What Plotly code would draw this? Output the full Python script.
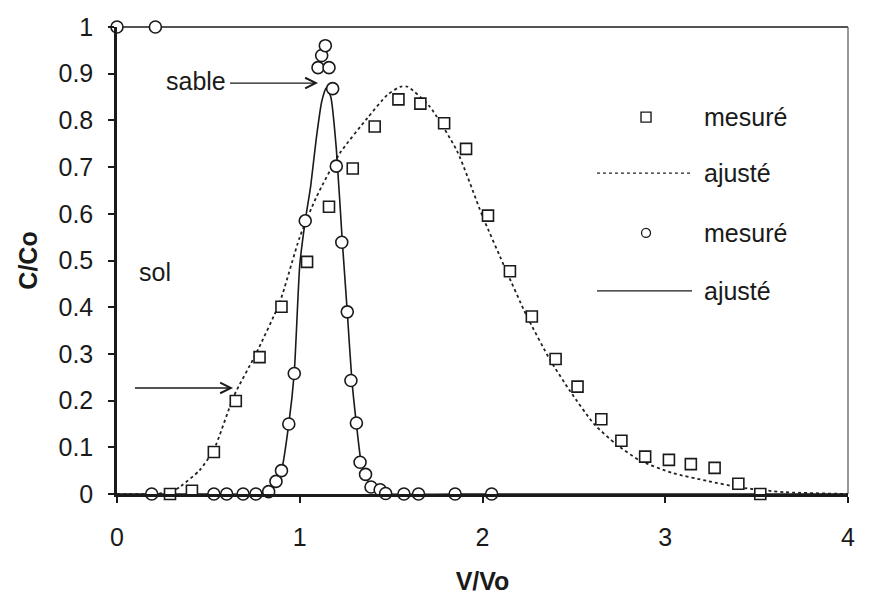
import plotly.graph_objects as go

# ---- data ----
sol_x = [0.29, 0.41, 0.53, 0.65, 0.78, 0.90, 1.04, 1.16, 1.29, 1.41, 1.54, 1.66, 1.79, 1.91,
         2.03, 2.15, 2.27, 2.40, 2.52, 2.65, 2.76, 2.89, 3.02, 3.14, 3.27, 3.40, 3.52]
sol_y = [0.0, 0.007, 0.09, 0.199, 0.293, 0.401, 0.497, 0.615, 0.697, 0.787, 0.845, 0.836, 0.794, 0.739,
         0.596, 0.477, 0.38, 0.289, 0.23, 0.16, 0.114, 0.08, 0.073, 0.064, 0.056, 0.022, 0.0]

sol_fit_x = [0.0, 0.2, 0.3, 0.35, 0.45, 0.53, 0.64, 0.76, 0.89, 1.0, 1.09, 1.22, 1.37, 1.48, 1.55,
             1.59, 1.71, 1.86, 2.0, 2.13, 2.24, 2.37, 2.48, 2.61, 2.73, 2.86, 3.04, 3.23, 3.41, 3.65, 4.0]
sol_fit_y = [0.0, 0.0, 0.005, 0.017, 0.05, 0.095, 0.21, 0.30, 0.41, 0.55, 0.635, 0.73, 0.805, 0.855, 0.872,
             0.872, 0.83, 0.735, 0.595, 0.478, 0.383, 0.287, 0.22, 0.15, 0.107, 0.072, 0.045, 0.028, 0.014, 0.004, 0.0]

sable_x = [0.19, 0.53, 0.60, 0.69, 0.76, 0.83, 0.87, 0.90, 0.94, 0.97, 1.03, 1.10, 1.12, 1.14, 1.16,
           1.18, 1.20, 1.23, 1.26, 1.28, 1.31, 1.33, 1.36, 1.39, 1.44, 1.47, 1.57, 1.65, 1.85, 2.05]
sable_y = [0.0, 0.0, 0.0, 0.0, 0.0, 0.005, 0.027, 0.05, 0.15, 0.258, 0.585, 0.913, 0.939, 0.96, 0.913,
           0.868, 0.702, 0.539, 0.39, 0.243, 0.152, 0.068, 0.042, 0.015, 0.009, 0.001, 0.0, 0.0, 0.0, 0.0]

sable_top_x = [0.0, 0.21]
sable_top_y = [1.0, 1.0]

sable_fit_x = [0.0, 0.5, 0.75, 0.83, 0.87, 0.90, 0.94, 0.97, 1.0, 1.03, 1.06, 1.09, 1.12, 1.145,
               1.17, 1.2, 1.233, 1.26, 1.285, 1.31, 1.335, 1.36, 1.39, 1.44, 1.5, 2.0, 3.0, 4.0]
sable_fit_y = [0.0, 0.0, 0.0, 0.005, 0.025, 0.05, 0.15, 0.26, 0.49, 0.585, 0.66, 0.76, 0.84, 0.87,
               0.85, 0.74, 0.54, 0.39, 0.245, 0.15, 0.07, 0.04, 0.015, 0.005, 0.0, 0.0, 0.0, 0.0]

x_ticks = [0, 1, 2, 3, 4]
y_ticks = [0, 0.1, 0.2, 0.3, 0.4, 0.5, 0.6, 0.7, 0.8, 0.9, 1]
y_tick_text = ["0", "0.1", "0.2", "0.3", "0.4", "0.5", "0.6", "0.7", "0.8", "0.9", "1"]
legend_labels = ["mesuré", "ajusté", "mesuré", "ajusté"]

FONT = "Liberation Sans, Arial, sans-serif"
INK = "#1a1a1a"
FS = 25

fig = go.Figure()

fig.add_trace(go.Scatter(x=sol_fit_x, y=sol_fit_y, mode="lines", name="ajusté",
                         line=dict(color="#222", width=1.8, dash="dot", shape="spline", smoothing=0.6),
                         showlegend=False, cliponaxis=False))
fig.add_trace(go.Scatter(x=sable_fit_x, y=sable_fit_y, mode="lines", name="ajusté",
                         line=dict(color=INK, width=1.6, shape="spline", smoothing=0.5),
                         showlegend=False, cliponaxis=False))
fig.add_trace(go.Scatter(x=sol_x, y=sol_y, mode="markers", name="mesuré",
                         marker=dict(symbol="square", size=11, color="white",
                                     line=dict(color=INK, width=1.6)),
                         showlegend=False, cliponaxis=False))
fig.add_trace(go.Scatter(x=sable_x, y=sable_y, mode="markers", name="mesuré",
                         marker=dict(symbol="circle", size=12, color="white",
                                     line=dict(color=INK, width=1.6)),
                         showlegend=False, cliponaxis=False))
fig.add_trace(go.Scatter(x=sable_top_x, y=sable_top_y, mode="markers", name="mesuré",
                         marker=dict(symbol="circle", size=12, color="white",
                                     line=dict(color=INK, width=1.6)),
                         showlegend=False, cliponaxis=False))

shapes = [
    # thin frame top/right
    dict(type="line", xref="paper", yref="paper", x0=0, x1=1, y0=1, y1=1,
         line=dict(color=INK, width=1.5), layer="below"),
    dict(type="line", xref="paper", yref="paper", x0=1, x1=1, y0=0, y1=1,
         line=dict(color="#555", width=1.2), layer="below"),
    # legend graphics
    dict(type="rect", xref="paper", yref="paper", xsizemode="pixel", ysizemode="pixel",
         xanchor=0.7237, yanchor=0.807, x0=-5, x1=5, y0=-5, y1=5,
         line=dict(color=INK, width=1.4), fillcolor="white"),
    dict(type="line", xref="paper", yref="paper", x0=0.6566, x1=0.7866, y0=0.687, y1=0.687,
         line=dict(color="#222", width=1.4, dash="dot")),
    dict(type="circle", xref="paper", yref="paper", xsizemode="pixel", ysizemode="pixel",
         xanchor=0.7237, yanchor=0.559, x0=-4.5, x1=4.5, y0=-4.5, y1=4.5,
         line=dict(color=INK, width=1.3), fillcolor="white"),
    dict(type="line", xref="paper", yref="paper", x0=0.6566, x1=0.7866, y0=0.435, y1=0.435,
         line=dict(color=INK, width=1.4)),
]

legend_y = [0.807, 0.687, 0.559, 0.435]
annotations = []
for lab, ly in zip(legend_labels, legend_y):
    annotations.append(dict(xref="paper", yref="paper", x=0.800, y=ly, text=lab,
                            showarrow=False, xanchor="left", yanchor="middle",
                            font=dict(family=FONT, size=FS, color=INK)))

# "sable" label and arrow
annotations.append(dict(x=0.43, y=0.885, text="sable", showarrow=False,
                        font=dict(family=FONT, size=FS, color=INK)))
annotations.append(dict(x=1.10, y=0.88, ax=0.61, ay=0.88, axref="x", ayref="y", text="",
                        showarrow=True, arrowhead=5, arrowsize=1.6, arrowwidth=1.3, arrowcolor=INK))
# "sol" label and arrow
annotations.append(dict(x=0.21, y=0.475, text="sol", showarrow=False,
                        font=dict(family=FONT, size=FS, color=INK)))
annotations.append(dict(x=0.635, y=0.227, ax=0.09, ay=0.227, axref="x", ayref="y", text="",
                        showarrow=True, arrowhead=5, arrowsize=1.6, arrowwidth=1.3, arrowcolor=INK))

fig.update_layout(
    width=871, height=594,
    margin=dict(l=109, r=31, t=19, b=108),
    paper_bgcolor="white", plot_bgcolor="white",
    font=dict(family=FONT, size=FS, color=INK),
    shapes=shapes, annotations=annotations, showlegend=False,
)
fig.update_xaxes(range=[0, 4], tickvals=x_ticks, ticktext=[str(v) for v in x_ticks],
                 automargin=False,
                 showgrid=False, zeroline=False, showline=True, linecolor=INK, linewidth=2.5,
                 ticks="outside", ticklen=6, tickwidth=1.5, tickcolor=INK,
                 ticklabelstandoff=13,
                 tickfont=dict(family=FONT, size=FS, color=INK),
                 title=dict(text="<b>V/Vo</b>", font=dict(family=FONT, size=FS, color=INK), standoff=23))
fig.update_yaxes(range=[0, 1], tickvals=y_ticks, ticktext=y_tick_text,
                 automargin=False,
                 showgrid=False, zeroline=False, showline=True, linecolor=INK, linewidth=2.5,
                 ticks="outside", ticklen=6, tickwidth=1.5, tickcolor=INK,
                 ticklabelstandoff=10,
                 tickfont=dict(family=FONT, size=FS, color=INK),
                 title=dict(text="<b>C/Co</b>", font=dict(family=FONT, size=FS, color=INK), standoff=14))

fig.write_html("out.html")
